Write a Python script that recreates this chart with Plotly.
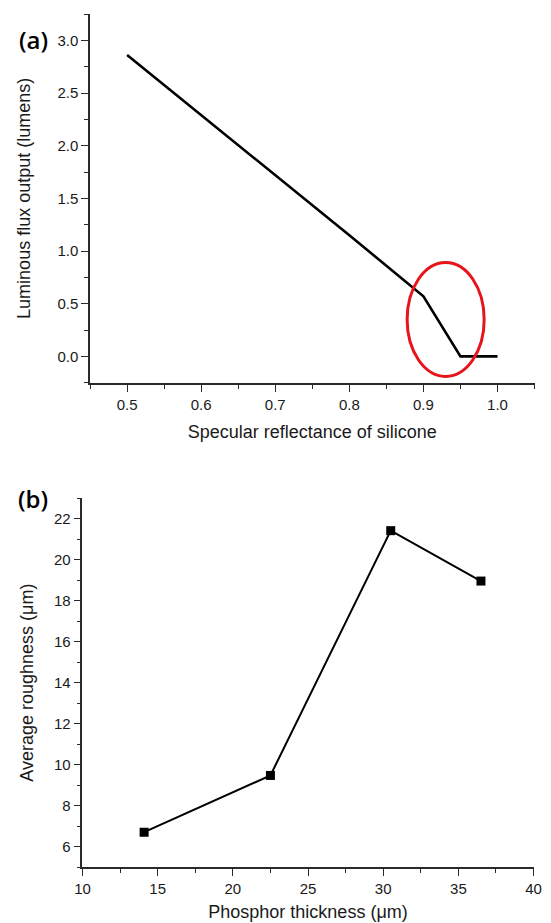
import plotly.graph_objects as go

# (a) luminous flux vs specular reflectance of the silicone
reflectance = [0.5, 0.6, 0.7, 0.8, 0.9, 0.95, 1.0]
flux_lm = [2.86, 2.29, 1.72, 1.15, 0.57, 0.0, 0.0]

# (b) average roughness vs phosphor thickness
thickness_um = [14.1, 22.5, 30.5, 36.5]
roughness_um = [6.7, 9.47, 21.42, 18.96]

# highlighted region around the drop in (a)
ellipse_x = [0.878, 0.982]
ellipse_y = [-0.19, 0.89]

W, H = 551, 923
TXT = "#1a1a1a"
FONT = "Liberation Sans, Arial, sans-serif"

fig = go.Figure()

fig.add_trace(go.Scatter(
    x=reflectance, y=flux_lm, mode="lines",
    line=dict(color="black", width=2.6),
    xaxis="x", yaxis="y", showlegend=False,
))
fig.add_trace(go.Scatter(
    x=thickness_um, y=roughness_um, mode="lines+markers",
    line=dict(color="black", width=2),
    marker=dict(symbol="square", size=9, color="black"),
    xaxis="x2", yaxis="y2", showlegend=False,
))


def px_x(a, b):
    return [a / W, b / W]


def px_y(top, bottom):
    return [1 - bottom / H, 1 - top / H]


axis_common = dict(
    showline=True, linecolor="#2a2a2a", linewidth=1.6,
    ticks="outside", ticklen=7, tickwidth=1.4, tickcolor="#2a2a2a",
    showgrid=False, zeroline=False,
    tickfont=dict(family=FONT, size=15, color=TXT),
    title_font=dict(family=FONT, size=18, color=TXT),
)
minor_common = dict(ticks="outside", ticklen=4, tickwidth=1.2, tickcolor="#2a2a2a")

fig.update_layout(
    width=W, height=H,
    margin=dict(l=0, r=0, t=0, b=0),
    paper_bgcolor="white", plot_bgcolor="white",
    xaxis=dict(
        axis_common, domain=px_x(84.5, 542.3), range=[0.45, 1.05],
        anchor="y", dtick=0.1, tick0=0, tickformat=".1f",
        minor=dict(minor_common, dtick=0.05, tick0=0),
        title=dict(text="Specular reflectance of silicone", standoff=14),
    ),
    yaxis=dict(
        axis_common, domain=px_y(14, 382.7), range=[-0.25, 3.25],
        anchor="x", dtick=0.5, tick0=0, tickformat=".1f",
        minor=dict(minor_common, dtick=0.25, tick0=0),
        title=dict(text="Luminous flux output (lumens)", standoff=22),
    ),
    xaxis2=dict(
        axis_common, domain=px_x(76.7, 541.3), range=[10, 40],
        anchor="y2", dtick=5, tick0=0,
        minor=dict(minor_common, dtick=2.5, tick0=0),
        title=dict(text="Phosphor thickness (μm)", standoff=10),
    ),
    yaxis2=dict(
        axis_common, domain=px_y(498.3, 867), range=[5, 23],
        anchor="x2", dtick=2, tick0=0,
        minor=dict(minor_common, dtick=1, tick0=0),
        title=dict(text="Average roughness (μm)", standoff=16),
    ),
    shapes=[dict(
        type="circle", xref="x", yref="y",
        x0=ellipse_x[0], x1=ellipse_x[1], y0=ellipse_y[0], y1=ellipse_y[1],
        line=dict(color="#e8141b", width=3),
    )],
    annotations=[
        dict(text="(a)", x=9 / W, y=1 - 40 / H, xref="paper", yref="paper",
             xanchor="left", yanchor="middle", showarrow=False,
             font=dict(family="Open Sans, sans-serif", size=24, color="black", weight=600)),
        dict(text="(b)", x=8 / W, y=1 - 498 / H, xref="paper", yref="paper",
             xanchor="left", yanchor="middle", showarrow=False,
             font=dict(family="Open Sans, sans-serif", size=24, color="black", weight=600)),
    ],
)

fig.write_html("out.html")
